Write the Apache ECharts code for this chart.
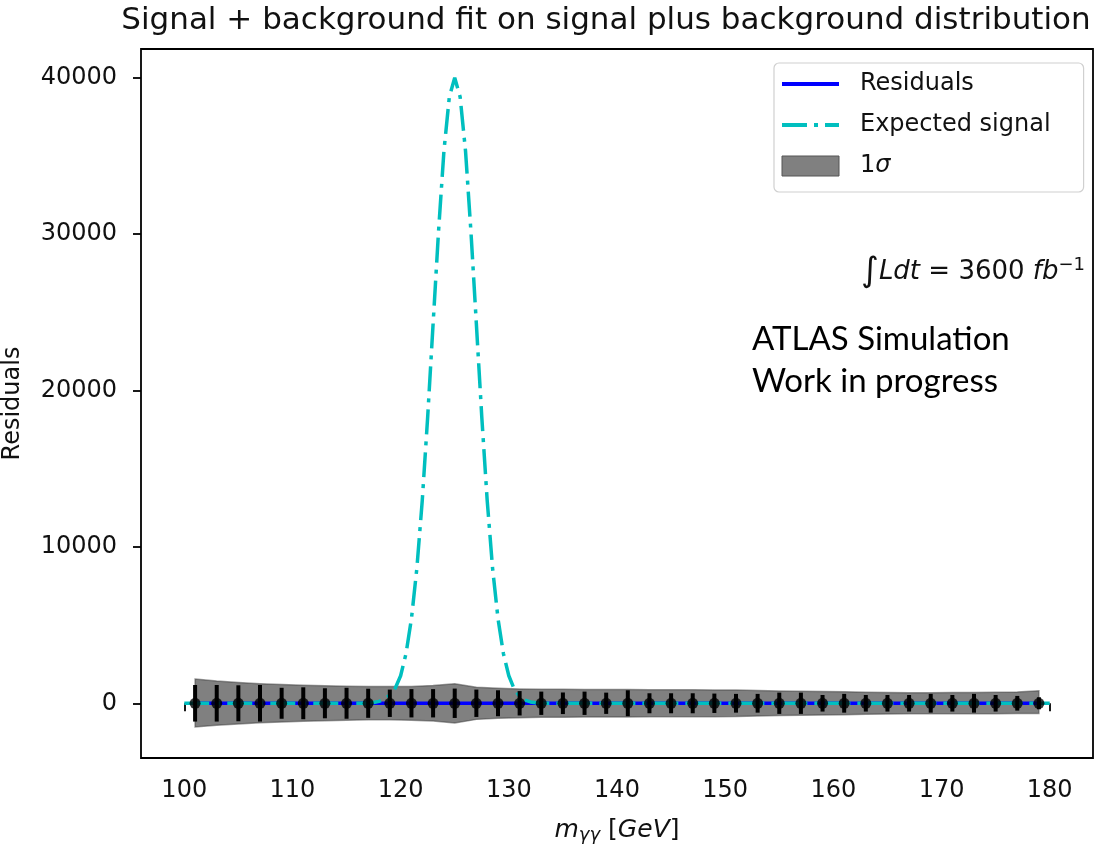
<!DOCTYPE html>
<html>
<head>
<meta charset="utf-8">
<script src="https://cdn.jsdelivr.net/npm/echarts@6/dist/echarts.min.js"></script>
<style>
  html, body { margin: 0; padding: 0; background: #fff; }
  #chart { width: 1115px; height: 847px; }
</style>
</head>
<body>
<div id="chart"></div>
<script>
// bin centres of the residual points (GeV)
var binX = [101, 103, 105, 107, 109, 111, 113, 115, 117, 119,
            121, 123, 125, 127, 129, 131, 133, 135, 137, 139,
            141, 143, 145, 147, 149, 151, 153, 155, 157, 159,
            161, 163, 165, 167, 169, 171, 173, 175, 177, 179];
// residuals (all sit on zero)
var residuals = [0, 0, 0, 0, 0, 0, 0, 0, 0, 0,
                 0, 0, 0, 0, 0, 0, 0, 0, 0, 0,
                 0, 0, 0, 0, 0, 0, 0, 0, 0, 0,
                 0, 0, 0, 0, 0, 0, 0, 0, 0, 0];
// error bar half lengths
var resErr = [1170, 1170, 1150, 1170, 990, 1020, 960, 990, 930, 875,
              905, 905, 940, 875, 830, 780, 745, 690, 745, 680,
              830, 640, 640, 640, 620, 600, 600, 680, 680, 530,
              600, 530, 530, 530, 600, 530, 600, 530, 470, 385];
// 1 sigma band edges
var bandUpper = [1550, 1420, 1330, 1250, 1200, 1160, 1120, 1090, 1070, 1070,
                 1080, 1130, 1250, 1030, 960, 920, 900, 890, 885, 880,
                 875, 870, 865, 860, 855, 850, 810, 790, 770, 750,
                 730, 710, 690, 680, 680, 690, 690, 700, 720, 800];
var bandLower = [-1520, -1400, -1320, -1240, -1190, -1150, -1110, -1080, -1060, -1060,
                 -1080, -1130, -1260, -1030, -960, -920, -900, -890, -885, -880,
                 -875, -870, -865, -860, -855, -850, -810, -790, -770, -750,
                 -730, -710, -690, -670, -670, -670, -670, -670, -660, -650];
// expected signal curve
var signalX = [100, 116, 116.5, 117, 117.5, 118, 118.5, 119, 119.5, 120, 120.5,
               121, 121.5, 122, 122.5, 123, 123.5, 124, 124.5, 125, 125.5,
               126, 126.5, 127, 127.5, 128, 128.5, 129, 129.5, 130, 130.5,
               131, 131.5, 132, 132.5, 133, 133.5, 134, 180];
var signalY = [0, 0, 5, 20, 50, 120, 260, 520, 960, 1760, 3180,
               5410, 8630, 12980, 18320, 24260, 30140, 35300, 38770, 40000, 38770,
               35300, 30140, 24260, 18320, 12980, 8630, 5410, 3180, 1760, 910,
               444, 204, 87, 36, 13, 5, 0, 0];
// tick labels
var xTicks = [100, 110, 120, 130, 140, 150, 160, 170, 180];
var yTicks = [0, 10000, 20000, 30000, 40000];

var resData = [], errData = [], sigData = [];
for (var i = 0; i < binX.length; i++) {
  resData.push([binX[i], residuals[i]]);
  errData.push([binX[i], residuals[i], resErr[i]]);
}
for (var j = 0; j < signalX.length; j++) {
  sigData.push([signalX[j], signalY[j]]);
}

var myChart = echarts.init(document.getElementById('chart'));

var font = 'DejaVu Sans';
var txt = '#111';
var noSymbol = { color: 'rgba(0,0,0,0)', borderWidth: 0, opacity: 0 };

var option = {
  animation: false,
  backgroundColor: '#fff',
  textStyle: { fontFamily: font },
  grid: {
    left: 141, right: 22, top: 49, bottom: 89,
    show: true, borderColor: '#000', borderWidth: 1.8,
    outerBoundsMode: 'none'
  },
  legend: {
    orient: 'vertical',
    left: 774, top: 63,
    padding: [9, 33, 14, 6],
    itemWidth: 57, itemHeight: 20, itemGap: 17,
    backgroundColor: '#fff',
    borderColor: '#d0d0d0', borderWidth: 1.2, borderRadius: 5,
    selectedMode: false,
    textStyle: {
      fontFamily: font, fontSize: 24, color: txt,
      padding: [0, 0, 0, 16],
      rich: {
        n: { fontFamily: font, fontSize: 24, color: txt },
        g: { fontFamily: font, fontSize: 24, color: txt, fontStyle: 'italic' }
      }
    },
    formatter: function (name) {
      return name === '1σ' ? '{n|1}{g|σ}' : name;
    },
    data: [
      { name: 'Residuals', itemStyle: noSymbol, lineStyle: { color: '#0000ff', width: 4 } },
      { name: 'Expected signal', itemStyle: noSymbol, lineStyle: { color: '#00bfbf', width: 4, type: [25, 7, 4, 7] } },
      { name: '1σ', icon: 'rect', itemStyle: { color: '#808080', borderColor: '#555', borderWidth: 1 } }
    ]
  },
  xAxis: {
    type: 'value',
    min: 96, max: 184,
    name: '{i|m}{s|γγ} [{i|GeV}]',
    nameLocation: 'middle',
    nameGap: 58,
    nameTextStyle: {
      rich: {
        i: { fontFamily: font, fontSize: 25, fontStyle: 'italic', color: txt },
        s: { fontFamily: font, fontSize: 18, fontStyle: 'italic', color: txt, verticalAlign: 'bottom', padding: [10, 0, 0, 0] }
      },
      fontFamily: font, fontSize: 25, color: txt
    },
    axisLine: { show: false },
    axisTick: { show: true, length: 8, customValues: xTicks, lineStyle: { color: '#000', width: 1.8 } },
    axisLabel: { customValues: xTicks, fontSize: 24, color: txt, margin: 21, fontFamily: font },
    splitLine: { show: false }
  },
  yAxis: {
    type: 'value',
    min: -3500, max: 41840,
    name: 'Residuals',
    nameLocation: 'middle',
    nameRotate: 90,
    nameGap: 116,
    nameTextStyle: { fontFamily: font, fontSize: 24, color: txt },
    axisLine: { show: false },
    axisTick: { show: true, length: 8, customValues: yTicks, lineStyle: { color: '#000', width: 1.8 } },
    axisLabel: {
      customValues: yTicks, fontSize: 24, color: txt, margin: 24, fontFamily: font,
      formatter: function (v) { return String(v); }
    },
    splitLine: { show: false }
  },
  graphic: [
    {
      type: 'text', x: 606, y: 5,
      style: {
        text: 'Signal + background fit on signal plus background distribution',
        fontFamily: font, fontSize: 31, fill: txt, align: 'center'
      }
    },
    {
      type: 'text', x: 1085, y: 272,
      style: {
        text: '{b|∫}{i|Ldt}{r| = 3600 }{i|fb}{p|−1}',
        align: 'right', verticalAlign: 'middle',
        rich: {
          b: { fontFamily: font, fontSize: 34, fill: txt, lineHeight: 40 },
          r: { fontFamily: font, fontSize: 26, fill: txt, lineHeight: 40 },
          i: { fontFamily: font, fontSize: 26, fill: txt, fontStyle: 'italic', lineHeight: 40 },
          p: { fontFamily: font, fontSize: 18, fill: txt, verticalAlign: 'top', lineHeight: 40, padding: [4, 0, 0, 0] }
        }
      }
    },
    {
      type: 'text', x: 752, y: 318,
      style: {
        text: 'ATLAS Simulation\nWork in progress',
        fontFamily: 'Lato', fontSize: 33, lineHeight: 42, fill: '#000'
      }
    }
  ],
  series: [
    {
      name: '1σ',
      type: 'custom',
      z: 1,
      clip: true,
      itemStyle: { color: '#808080' },
      data: [[binX[0], 0]],
      renderItem: function (params, api) {
        var pts = [];
        for (var k = 0; k < binX.length; k++) pts.push(api.coord([binX[k], bandUpper[k]]));
        for (var m = binX.length - 1; m >= 0; m--) pts.push(api.coord([binX[m], bandLower[m]]));
        return {
          type: 'polygon',
          shape: { points: pts },
          style: { fill: '#808080', stroke: 'rgba(60,60,60,0.5)', lineWidth: 1.5 }
        };
      }
    },
    {
      name: 'Residuals',
      type: 'line',
      z: 2,
      data: resData,
      symbol: 'none',
      lineStyle: { color: '#0000ff', width: 3.5 },
      itemStyle: { color: '#0000ff' }
    },
    {
      name: 'Expected signal',
      type: 'line',
      z: 3,
      data: sigData,
      symbol: 'none',
      lineStyle: { color: '#00bfbf', width: 3.5, type: [25, 7, 4, 7], cap: 'butt' },
      itemStyle: { color: '#00bfbf' }
    },
    {
      name: 'errbars',
      type: 'custom',
      z: 4,
      data: errData,
      encode: { x: 0, y: 1 },
      renderItem: function (params, api) {
        var x = api.value(0), y = api.value(1), e = api.value(2);
        var p1 = api.coord([x, y + e]);
        var p2 = api.coord([x, y - e]);
        return {
          type: 'line',
          shape: { x1: p1[0], y1: p1[1], x2: p2[0], y2: p2[1] },
          style: { stroke: '#000', lineWidth: 4 }
        };
      }
    },
    {
      name: 'points',
      type: 'scatter',
      z: 5,
      data: resData,
      symbol: 'circle',
      symbolSize: 11,
      itemStyle: { color: '#000' }
    }
  ]
};

myChart.setOption(option);
window.onresize = myChart.resize;
</script>
</body>
</html>
